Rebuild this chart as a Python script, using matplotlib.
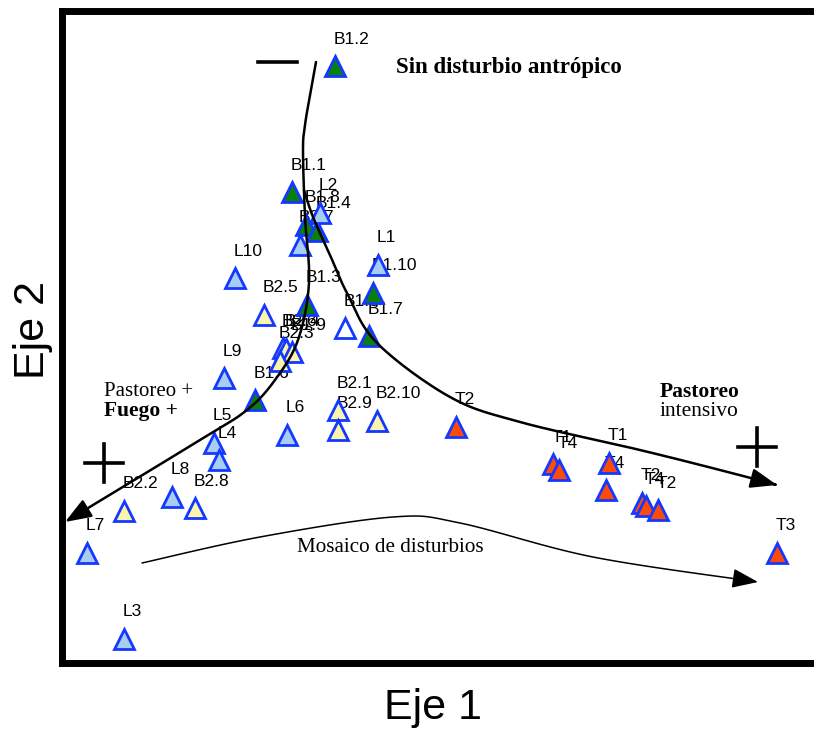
import matplotlib
matplotlib.use("Agg")
import matplotlib.pyplot as plt
from matplotlib.patches import FancyArrowPatch
from matplotlib.path import Path
import numpy as np

green_lab = ['B1.2', 'B1.1', 'B1.8', 'B1.4', 'B1.10', 'B1.3', 'B1.7', 'B1.6']
green_x = [335, 292, 306, 317, 373, 307, 369, 255]
green_y = [66, 192, 225, 231, 293, 305, 336, 400]

lblue_lab = ['L2', 'B2.7', 'L10', 'L1', 'L9', 'L6', 'L5', 'L4', 'L8', 'L7', 'L3']
lblue_x = [320, 300, 235, 378, 224, 287, 214, 219, 172, 87, 124]
lblue_y = [213, 245, 278, 265, 378, 435, 443, 460, 497, 553, 639]

yellow_lab = ['B2.5', 'B2.6', 'B2.4', 'B1.9', 'B2.3', 'B2.1', 'B2.9', 'B2.10', 'B2.8', 'B2.2']
yellow_x = [264, 283, 286, 292, 280, 338, 338, 377, 195, 124]
yellow_y = [315, 348, 349, 352, 361, 410, 430, 421, 508, 511]

white_lab = ['B1.5']
white_x = [345]
white_y = [328]

orange_lab = ['T2', 'T1', 'T4', 'T1', 'T4', 'T2', 'T4', 'T2', 'T3']
orange_x = [456, 553, 559, 609, 606, 642, 646, 658, 777]
orange_y = [427, 464, 470, 463, 490, 503, 506, 510, 553]

groups = [
    (green_lab, green_x, green_y, '#0a7f0a'),
    (lblue_lab, lblue_x, lblue_y, '#a8cdf2'),
    (yellow_lab, yellow_x, yellow_y, '#fbf4ad'),
    (white_lab, white_x, white_y, 'white'),
    (orange_lab, orange_x, orange_y, '#ff4b0a'),
]

edge = '#1438ff'
sans = 'Liberation Sans'
serif = 'Liberation Serif'


def smooth(pts, n=25):
    """Catmull-Rom curve through the guide points of a hand-drawn arrow."""
    pts = np.asarray(pts, float)
    p = np.vstack([pts[0], pts, pts[-1]])
    out = []
    t = np.linspace(0, 1, n, endpoint=False)[:, None]
    for i in range(1, len(p) - 2):
        p0, p1, p2, p3 = p[i - 1], p[i], p[i + 1], p[i + 2]
        out.append(0.5 * (2 * p1 + (-p0 + p2) * t + (2 * p0 - 5 * p1 + 4 * p2 - p3) * t ** 2
                          + (-p0 + 3 * p1 - 3 * p2 + p3) * t ** 3))
    out.append(pts[-1:])
    return np.vstack(out)


fig = plt.figure(figsize=(8.14, 7.31), dpi=100)
ax = fig.add_axes([61.5 / 814, 1 - 663 / 731, (830 - 61.5) / 814, (663 - 10.5) / 731])
ax.set_xlim(61.5, 830)
ax.set_ylim(663, 10.5)
ax.set_xticks([])
ax.set_yticks([])
for s in ['left', 'top', 'bottom', 'right']:
    ax.spines[s].set_linewidth(5)

for lab, xs, ys, col in groups:
    ax.plot(xs, ys, linestyle='none', marker='^', markersize=15, markerfacecolor=col,
            markeredgecolor=edge, markeredgewidth=2, zorder=3)
    for l, x, y in zip(lab, xs, ys):
        ax.text(x - 1, y - 27, l, fontsize=12.5, family=sans, ha='left', va='center', zorder=2)

# gradient arrows
top_left = [(316, 62), (310, 95), (305, 125), (303, 150), (305, 217), (309, 283),
            (298, 340), (275, 380), (247, 410), (200, 440), (65, 522)]
right_branch = [(304, 190), (313, 217), (330, 255), (347, 293), (377, 343), (450, 397),
                (520, 422), (640, 450), (720, 470), (777, 485)]
mosaic = [(142, 563), (260, 537), (393, 517), (460, 523), (593, 557), (758, 582)]

for pts, lw in [(top_left, 1.8), (right_branch, 1.8), (mosaic, 1.1)]:
    arr = FancyArrowPatch(path=Path(smooth(pts)), arrowstyle='-|>,head_length=0.8,head_width=0.3',
                          mutation_scale=20, lw=lw, color='black', shrinkA=0, shrinkB=0, zorder=4)
    ax.add_patch(arr)

# signs
ax.plot([258, 297], [62, 62], color='black', lw=2.6, zorder=4)
for cx, cy in [(104, 463), (757, 447)]:
    ax.plot([cx - 19, cx + 19], [cy, cy], color='black', lw=2.6, zorder=4)
    ax.plot([cx, cx], [cy - 19, cy + 19], color='black', lw=2.6, zorder=4)

ax.text(509, 68, 'Sin disturbio antrópico', fontsize=16.5, family=serif, fontweight='bold',
        ha='center', va='center')
ax.text(660, 392, 'Pastoreo', fontsize=15.5, family=serif, fontweight='bold', ha='left', va='center')
ax.text(660, 411, 'intensivo', fontsize=15.5, family=serif, ha='left', va='center')
ax.text(104, 392, 'Pastoreo +', fontsize=15, family=serif, ha='left', va='center')
ax.text(104, 411, 'Fuego +', fontsize=15.5, family=serif, fontweight='bold', ha='left', va='center')
ax.text(390, 547, 'Mosaico de disturbios', fontsize=15.2, family=serif, ha='center', va='center')

fig.text(433 / 814, 1 - 708 / 731, 'Eje 1', fontsize=31, family=sans, ha='center', va='center')
fig.text(33 / 814, 1 - 330 / 731, 'Eje 2', fontsize=31, family=sans, rotation=90,
         ha='center', va='center')

fig.savefig('out.png', dpi=100)
